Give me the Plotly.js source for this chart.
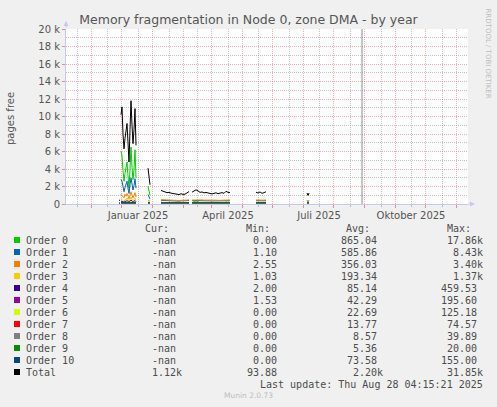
<!DOCTYPE html>
<html>
<head>
<meta charset="utf-8">
<script src="https://cdn.plot.ly/plotly-3.0.1.min.js"></script>
<style>
  html, body { margin: 0; padding: 0; background: #f0f0f0; }
  #graphDiv { width: 497px; height: 407px; }
</style>
</head>
<body>
<div id="graphDiv"></div>
<script>
// sample dates; a null row after each run closes the gap in the record
const dates = [
  '2024-12-13','2024-12-14','2024-12-14 12:00',
  '2024-12-15','2024-12-16','2024-12-17','2024-12-18','2024-12-19','2024-12-20','2024-12-21','2024-12-22',
  '2024-12-23','2024-12-24','2024-12-25','2024-12-26','2024-12-27','2024-12-28','2024-12-29','2024-12-30','2024-12-31',
  '2025-01-11','2025-01-12','2025-01-13','2025-01-14',
  '2025-01-24','2025-01-26','2025-01-28','2025-01-30','2025-02-01','2025-02-03','2025-02-05','2025-02-07',
  '2025-02-09','2025-02-11','2025-02-13','2025-02-15','2025-02-17','2025-02-19','2025-02-21','2025-02-22',
  '2025-02-24','2025-02-26','2025-02-28','2025-03-02','2025-03-04','2025-03-06','2025-03-08','2025-03-10','2025-03-12','2025-03-14',
  '2025-03-16','2025-03-18','2025-03-20','2025-03-22','2025-03-24','2025-03-26','2025-03-28','2025-03-30','2025-04-01','2025-04-03','2025-04-04',
  '2025-04-29','2025-05-01','2025-05-03','2025-05-05','2025-05-07','2025-05-09','2025-05-10',
  '2025-06-19','2025-06-20','2025-06-21'
];

// pages free, in thousands
const order0 = [0.10, 0.08, null,
  6.0, 5.5, 3.8, 2.6, 3.5, 4.2, 4.8, 3.2, 1.8, 4.0, 6.5, 4.2, 2.8, 4.0, 6.2, 3.0, null,
  2.0, 1.5, 1.0, null,
  0.20, 0.12, 0.10, 0.06, 0.10, 0.05, 0.05, 0.03, 0.02, 0.02, 0.06, 0.03, 0.04, 0.12, 0.20, null,
  0.15, 0.22, 0.35, 0.28, 0.12, 0.18, 0.08, 0.12, 0.08, 0.05, 0.03, 0.06, 0.10, 0.04, 0.08, 0.12, 0.06, 0.25, 0.15, 0.12, null,
  0.15, 0.08, 0.18, 0.06, 0.12, 0.20, null,
  0.40, 0.15, 0.38];
const order1 = [0.15, 0.14, null,
  2.8, 2.6, 2.0, 1.4, 1.9, 2.4, 2.6, 1.8, 1.2, 2.2, 3.0, 2.3, 1.6, 2.1, 2.9, 1.8, null,
  1.1, 0.8, 0.55, null,
  0.42, 0.40, 0.40, 0.38, 0.39, 0.37, 0.36, 0.35, 0.34, 0.33, 0.36, 0.34, 0.34, 0.38, 0.41, null,
  0.38, 0.40, 0.43, 0.41, 0.38, 0.39, 0.37, 0.38, 0.37, 0.36, 0.35, 0.36, 0.37, 0.35, 0.37, 0.38, 0.36, 0.40, 0.38, 0.38, null,
  0.38, 0.36, 0.39, 0.35, 0.37, 0.39, null,
  0.33, 0.30, 0.33];
const order2 = [0.08, 0.07, null,
  1.1, 1.0, 0.8, 0.7, 1.1, 0.9, 1.2, 0.8, 0.6, 1.0, 1.4, 1.0, 0.7, 1.0, 1.3, 0.8, null,
  0.45, 0.35, 0.30, null,
  0.50, 0.48, 0.46, 0.45, 0.45, 0.44, 0.43, 0.42, 0.41, 0.40, 0.42, 0.41, 0.41, 0.44, 0.47, null,
  0.45, 0.46, 0.50, 0.47, 0.45, 0.46, 0.44, 0.45, 0.44, 0.43, 0.42, 0.43, 0.44, 0.42, 0.44, 0.45, 0.43, 0.47, 0.45, 0.45, null,
  0.45, 0.43, 0.46, 0.42, 0.44, 0.46, null,
  0.28, 0.25, 0.28];
const order3 = [0.05, 0.05, null,
  0.60, 0.50, 0.40, 0.30, 0.50, 0.45, 0.70, 0.40, 0.30, 0.50, 0.80, 0.50, 0.35, 0.50, 0.70, 0.40, null,
  0.25, 0.20, 0.15, null,
  0.20, 0.19, 0.18, 0.18, 0.18, 0.17, 0.17, 0.16, 0.16, 0.15, 0.16, 0.16, 0.16, 0.17, 0.19, null,
  0.18, 0.19, 0.21, 0.20, 0.18, 0.19, 0.18, 0.18, 0.18, 0.17, 0.17, 0.17, 0.18, 0.17, 0.18, 0.18, 0.17, 0.19, 0.18, 0.18, null,
  0.18, 0.17, 0.18, 0.17, 0.18, 0.19, null,
  0.12, 0.10, 0.12];
const order4 = [0.02, 0.02, null,
  0.35, 0.30, 0.25, 0.20, 0.30, 0.30, 0.40, 0.25, 0.20, 0.30, 0.46, 0.30, 0.20, 0.30, 0.40, 0.25, null,
  0.12, 0.10, 0.08, null,
  0.09, 0.08, 0.08, 0.08, 0.08, 0.07, 0.07, 0.07, 0.07, 0.07, 0.07, 0.07, 0.07, 0.08, 0.08, null,
  0.08, 0.08, 0.09, 0.09, 0.08, 0.08, 0.08, 0.08, 0.08, 0.07, 0.07, 0.07, 0.08, 0.07, 0.08, 0.08, 0.07, 0.08, 0.08, 0.08, null,
  0.08, 0.07, 0.08, 0.07, 0.08, 0.08, null,
  0.05, 0.05, 0.05];
const order5 = [0.01, 0.01, null,
  0.15, 0.14, 0.12, 0.10, 0.13, 0.13, 0.17, 0.12, 0.10, 0.13, 0.19, 0.13, 0.10, 0.13, 0.17, 0.12, null,
  0.06, 0.05, 0.04, null,
  0.04, 0.04, 0.04, 0.04, 0.04, 0.04, 0.04, 0.03, 0.03, 0.03, 0.03, 0.03, 0.03, 0.04, 0.04, null,
  0.04, 0.04, 0.05, 0.04, 0.04, 0.04, 0.04, 0.04, 0.04, 0.04, 0.03, 0.04, 0.04, 0.03, 0.04, 0.04, 0.04, 0.04, 0.04, 0.04, null,
  0.04, 0.04, 0.04, 0.04, 0.04, 0.04, null,
  0.03, 0.03, 0.03];
const order6 = [0.00, 0.00, null,
  0.08, 0.07, 0.06, 0.05, 0.07, 0.07, 0.10, 0.06, 0.05, 0.07, 0.12, 0.07, 0.05, 0.07, 0.10, 0.06, null,
  0.03, 0.03, 0.02, null,
  0.02, 0.02, 0.02, 0.02, 0.02, 0.02, 0.02, 0.02, 0.02, 0.02, 0.02, 0.02, 0.02, 0.02, 0.02, null,
  0.02, 0.02, 0.02, 0.02, 0.02, 0.02, 0.02, 0.02, 0.02, 0.02, 0.02, 0.02, 0.02, 0.02, 0.02, 0.02, 0.02, 0.02, 0.02, 0.02, null,
  0.02, 0.02, 0.02, 0.02, 0.02, 0.02, null,
  0.01, 0.01, 0.01];
const order7 = [0.00, 0.00, null,
  0.05, 0.04, 0.03, 0.03, 0.04, 0.04, 0.06, 0.03, 0.03, 0.04, 0.07, 0.04, 0.03, 0.04, 0.06, 0.03, null,
  0.02, 0.02, 0.01, null,
  0.01, 0.01, 0.01, 0.01, 0.01, 0.01, 0.01, 0.01, 0.01, 0.01, 0.01, 0.01, 0.01, 0.01, 0.01, null,
  0.01, 0.01, 0.01, 0.01, 0.01, 0.01, 0.01, 0.01, 0.01, 0.01, 0.01, 0.01, 0.01, 0.01, 0.01, 0.01, 0.01, 0.01, 0.01, 0.01, null,
  0.01, 0.01, 0.01, 0.01, 0.01, 0.01, null,
  0.00, 0.00, 0.00];
const order8 = [0.00, 0.00, null,
  0.03, 0.02, 0.02, 0.01, 0.02, 0.02, 0.03, 0.02, 0.01, 0.02, 0.04, 0.02, 0.01, 0.02, 0.03, 0.02, null,
  0.01, 0.01, 0.01, null,
  0.005, 0.005, 0.005, 0.005, 0.005, 0.005, 0.005, 0.005, 0.005, 0.005, 0.005, 0.005, 0.005, 0.005, 0.005, null,
  0.005, 0.005, 0.005, 0.005, 0.005, 0.005, 0.005, 0.005, 0.005, 0.005, 0.005, 0.005, 0.005, 0.005, 0.005, 0.005, 0.005, 0.005, 0.005, 0.005, null,
  0.005, 0.005, 0.005, 0.005, 0.005, 0.005, null,
  0.00, 0.00, 0.00];
const order9 = [0.00, 0.00, null,
  0.02, 0.01, 0.01, 0.01, 0.01, 0.01, 0.02, 0.01, 0.01, 0.01, 0.02, 0.01, 0.01, 0.01, 0.02, 0.01, null,
  0.005, 0.005, 0.005, null,
  0.002, 0.002, 0.002, 0.002, 0.002, 0.002, 0.002, 0.002, 0.002, 0.002, 0.002, 0.002, 0.002, 0.002, 0.002, null,
  0.002, 0.002, 0.002, 0.002, 0.002, 0.002, 0.002, 0.002, 0.002, 0.002, 0.002, 0.002, 0.002, 0.002, 0.002, 0.002, 0.002, 0.002, 0.002, 0.002, null,
  0.002, 0.002, 0.002, 0.002, 0.002, 0.002, null,
  0.00, 0.00, 0.00];
const order10 = [0.00, 0.00, null,
  0.155, 0.155, 0.155, 0.155, 0.155, 0.155, 0.155, 0.155, 0.155, 0.155, 0.155, 0.155, 0.155, 0.155, 0.155, 0.155, null,
  0.155, 0.155, 0.155, null,
  0.155, 0.155, 0.155, 0.155, 0.155, 0.155, 0.155, 0.155, 0.155, 0.155, 0.155, 0.155, 0.155, 0.155, 0.155, null,
  0.155, 0.155, 0.155, 0.155, 0.155, 0.155, 0.155, 0.155, 0.155, 0.155, 0.155, 0.155, 0.155, 0.155, 0.155, 0.155, 0.155, 0.155, 0.155, 0.155, null,
  0.155, 0.155, 0.155, 0.155, 0.155, 0.155, null,
  0.155, 0.155, 0.155];
const total = [0.45, 0.40, null,
  10.2, 11.1, 8.0, 6.3, 7.5, 8.6, 9.2, 7.0, 4.8, 8.5, 11.8, 9.0, 6.9, 8.5, 10.9, 6.7, null,
  4.1, 3.1, 2.2, null,
  1.55, 1.42, 1.38, 1.30, 1.33, 1.24, 1.22, 1.15, 1.10, 1.08, 1.17, 1.10, 1.12, 1.28, 1.42, null,
  1.35, 1.45, 1.62, 1.50, 1.33, 1.38, 1.27, 1.32, 1.25, 1.20, 1.15, 1.22, 1.28, 1.18, 1.25, 1.30, 1.22, 1.45, 1.33, 1.30, null,
  1.35, 1.25, 1.38, 1.22, 1.30, 1.40, null,
  1.25, 0.98, 1.25];

const seriesNames = ['Order 0','Order 1','Order 2','Order 3','Order 4','Order 5',
                     'Order 6','Order 7','Order 8','Order 9','Order 10','Total'];
const seriesColors = ['#00cc00','#0066b3','#ff8000','#ffcc00','#330099','#990099',
                      '#ccff00','#ff0000','#808080','#008f00','#00487d','#000000'];
const seriesValues = [order0, order1, order2, order3, order4, order5,
                      order6, order7, order8, order9, order10, total];

// legend table
const curVals = ['-nan','-nan','-nan','-nan','-nan','-nan','-nan','-nan','-nan','-nan','-nan','1.12k'];
const minVals = ['0.00','1.10','2.55','1.03','2.00','1.53','0.00','0.00','0.00','0.00','0.00','93.88'];
const avgVals = ['865.04','585.86','356.03','193.34','85.14','42.29','22.69','13.77','8.57','5.36','73.58','2.20k'];
const maxVals = ['17.86k','8.43k','3.40k','1.37k','459.53','195.60','125.18','74.57','39.89','20.00','155.00','31.85k'];

// axis labels
const tickDates = ['2025-01-01','2025-04-01','2025-07-01','2025-10-01'];
const tickLabels = ['Januar 2025','April 2025','Juli 2025','Oktober 2025'];
const yTickVals = [0, 2, 4, 6, 8, 10, 12, 14, 16, 18, 20];
const yTickText = ['0','2 k','4 k','6 k','8 k','10 k','12 k','14 k','16 k','18 k','20 k'];
const nowLine = '2025-08-13';
const lastUpdate = 'Last update: Thu Aug 28 04:15:21 2025';

// plot box in page pixels
const L = 66, R = 468, T = 29, B = 204;
function px(x) { return (x - L) / (R - L); }
function py(y) { return (B - y) / (B - T); }

const monthStarts = [];
for (let k = 0; k < 13; k++) {
    monthStarts.push(new Date(Date.UTC(2024, 10 + k, 1)).toISOString().slice(0, 10));
}
const monthText = monthStarts.map((d) => {
    const j = tickDates.indexOf(d);
    return j >= 0 ? tickLabels[j] : '';
});

const traces = seriesValues.map((vals, i) => ({
    x: dates,
    y: vals,
    name: seriesNames[i],
    type: 'scatter',
    mode: 'lines',
    connectgaps: false,
    hoverinfo: 'skip',
    line: {color: seriesColors[i], width: 1}
}));

const mono = {family: 'DejaVu Sans Mono', size: 10, color: '#4d4d4d'};
const ann = [];
const shapes = [];

function cell(text, xr, y, anchor) {
    ann.push({text: text, x: px(xr), y: py(y), xref: 'paper', yref: 'paper',
              xanchor: anchor, yanchor: 'middle', showarrow: false,
              borderpad: 0, borderwidth: 0, font: mono});
}

cell('Cur:', 168.5, 228.5, 'right');
cell('Min:', 269.5, 228.5, 'right');
cell('Avg:', 369.5, 228.5, 'right');
cell('Max:', 470.5, 228.5, 'right');

function unit(s) { return /k$/.test(s) ? s : s + '\u00a0'; }

seriesNames.forEach((name, i) => {
    const y = 240 + 12 * i;
    shapes.push({type: 'rect', xref: 'paper', yref: 'paper',
                 x0: px(14), x1: px(20), y0: py(y + 3), y1: py(y - 3),
                 fillcolor: seriesColors[i], line: {width: 0}});
    cell(name, 26, y, 'left');
    cell(unit(curVals[i]), 181.5, y, 'right');
    cell(unit(minVals[i]), 282.5, y, 'right');
    cell(unit(avgVals[i]), 382.5, y, 'right');
    cell(unit(maxVals[i]), 483, y, 'right');
});
cell(lastUpdate, 483, 384, 'right');

ann.push({text: 'Munin 2.0.73', x: px(248.5), y: py(396), xref: 'paper', yref: 'paper',
          xanchor: 'center', yanchor: 'middle', showarrow: false,
          font: {family: 'DejaVu Sans', size: 7.5, color: '#bdbdbd'}});
ann.push({text: 'RRDTOOL / TOBI OETIKER', x: px(487.5), y: py(53), xref: 'paper', yref: 'paper',
          xanchor: 'center', yanchor: 'middle', showarrow: false, textangle: 90,
          font: {family: 'DejaVu Sans', size: 7, color: '#bdbdbd'}});
ann.push({text: 'pages free', x: px(11), y: py(119), xref: 'paper', yref: 'paper',
          xanchor: 'center', yanchor: 'middle', showarrow: false, textangle: -90,
          font: {family: 'DejaVu Sans', size: 10, color: '#555'}});
// axis arrows
ann.push({text: '', x: px(475), y: 0, xref: 'paper', yref: 'paper', ax: -8, ay: 0,
          showarrow: true, arrowhead: 2, arrowsize: 1, arrowwidth: 1, arrowcolor: '#c8c8ec'});
ann.push({text: '', x: 0, y: py(21), xref: 'paper', yref: 'paper', ax: 0, ay: 8,
          showarrow: true, arrowhead: 2, arrowsize: 1, arrowwidth: 1, arrowcolor: '#c8c8ec'});

shapes.push({type: 'line', xref: 'x', yref: 'paper', x0: nowLine, x1: nowLine, y0: 0, y1: 1,
             line: {color: '#8c8c8c', width: 1}});

const redGrid = 'rgba(235,110,110,0.55)';
const grayGrid = 'rgba(150,150,150,0.55)';

const layout = {
    width: 497,
    height: 407,
    paper_bgcolor: '#f0f0f0',
    plot_bgcolor: '#ffffff',
    margin: {l: L, r: 497 - R, t: T, b: 407 - B, pad: 0},
    showlegend: false,
    font: {family: 'DejaVu Sans', size: 10, color: '#555'},
    title: {
        text: 'Memory fragmentation in Node 0, zone DMA - by year',
        font: {family: 'DejaVu Sans', size: 12.5, color: '#555'},
        xref: 'container', yref: 'container',
        x: 0.5, xanchor: 'center', y: 1 - 19.5 / 407, yanchor: 'middle'
    },
    xaxis: {
        type: 'date',
        range: ['2024-10-21', '2025-11-27'],
        tickmode: 'array',
        tickvals: monthStarts,
        ticktext: monthText,
        showgrid: true, gridcolor: grayGrid, griddash: '1px,1px', gridwidth: 1,
        ticks: 'outside', ticklen: 2, tickcolor: '#bbb',
        showline: true, linecolor: '#c8c8ec', linewidth: 1,
        zeroline: false, fixedrange: true,
        tickfont: {family: 'DejaVu Sans', size: 10, color: '#555'},
        minor: {
            tickmode: 'linear', tick0: '2024-10-15', dtick: 'M1',
            showgrid: true, gridcolor: redGrid, griddash: '1px,1px', gridwidth: 1,
            ticks: 'outside', ticklen: 3, tickcolor: '#f08888'
        }
    },
    yaxis: {
        range: [0, 20],
        tickmode: 'array',
        tickvals: yTickVals,
        ticktext: yTickText,
        showgrid: true, gridcolor: redGrid, griddash: '1px,1px', gridwidth: 1,
        ticks: 'outside', ticklen: 3, tickcolor: '#f08888',
        showline: true, linecolor: '#c8c8ec', linewidth: 1,
        zeroline: false, fixedrange: true,
        tickfont: {family: 'DejaVu Sans', size: 10, color: '#555'},
        minor: {
            tickmode: 'linear', tick0: 1, dtick: 2,
            showgrid: true, gridcolor: grayGrid, griddash: '1px,1px', gridwidth: 1
        }
    },
    shapes: shapes,
    annotations: ann
};

Plotly.newPlot('graphDiv', traces, layout, {displayModeBar: false, staticPlot: true});
</script>
</body>
</html>
